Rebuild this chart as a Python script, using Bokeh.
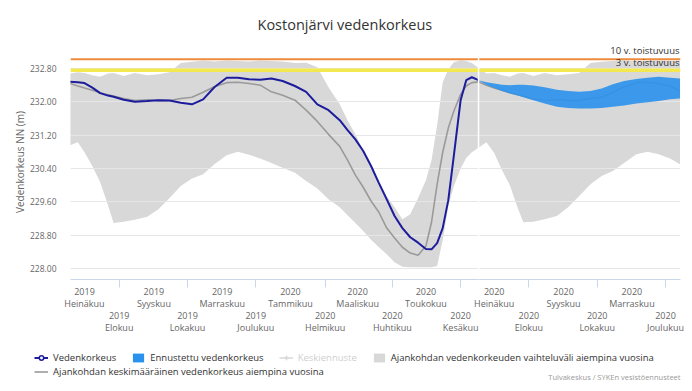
import numpy as np
from bokeh.plotting import figure
from bokeh.models import (Range1d, LinearAxis, FixedTicker, Legend, LegendItem, Span,
                          Label, Title, Grid, PrintfTickFormatter)
from bokeh.embed import file_html
from bokeh.resources import INLINE

# ---------------- data ----------------
dates = ["2019-06-18", "2019-06-25", "2019-07-01", "2019-07-08", "2019-07-15", "2019-07-22",
         "2019-07-27", "2019-08-05", "2019-08-15", "2019-08-26", "2019-09-05", "2019-09-15",
         "2019-09-25", "2019-10-05", "2019-10-15", "2019-10-25", "2019-11-05", "2019-11-15",
         "2019-11-25", "2019-12-05", "2019-12-15", "2019-12-25", "2020-01-05", "2020-01-15",
         "2020-01-25", "2020-02-04", "2020-02-14", "2020-02-21", "2020-02-28", "2020-03-06",
         "2020-03-13", "2020-03-20", "2020-03-27", "2020-04-03", "2020-04-10", "2020-04-17",
         "2020-04-24", "2020-05-01", "2020-05-06", "2020-05-11", "2020-05-16", "2020-05-21",
         "2020-05-26", "2020-06-01", "2020-06-06", "2020-06-11", "2020-06-17", "2020-06-24",
         "2020-07-01", "2020-07-08", "2020-07-15", "2020-07-22", "2020-07-27", "2020-08-05",
         "2020-08-15", "2020-08-26", "2020-09-05", "2020-09-15", "2020-09-25", "2020-10-05",
         "2020-10-15", "2020-10-25", "2020-11-05", "2020-11-15", "2020-11-25", "2020-12-05",
         "2020-12-14"]

band_max = [232.68, 232.71, 232.69, 232.64, 232.60, 232.68, 232.69, 232.62, 232.69, 232.64,
            232.66, 232.71, 232.93, 232.96, 232.99, 232.97, 232.99, 232.98, 232.97, 232.99,
            232.98, 232.97, 232.93, 232.94, 232.83, 232.35, 231.94, 231.56, 231.22, 230.82,
            230.43, 230.10, 229.74, 229.47, 229.18, 229.30, 229.69, 230.12, 230.60, 231.44,
            232.47, 232.78, 232.95, 233.00, 232.98, 232.93, 232.81, 232.68, 232.69, 232.64,
            232.60, 232.68, 232.69, 232.62, 232.69, 232.64, 232.66, 232.69, 232.93, 232.96,
            232.98, 232.99, 232.97, 232.98, 232.99, 232.98, 232.98]

band_min = [230.96, 231.03, 230.79, 230.46, 230.07, 229.52, 229.09, 229.12, 229.17, 229.24,
            229.42, 229.69, 229.98, 230.16, 230.26, 230.50, 230.72, 230.80, 230.73, 230.64,
            230.53, 230.42, 230.30, 230.10, 229.92, 229.66, 229.47, 229.28, 229.09, 228.90,
            228.69, 228.51, 228.34, 228.15, 228.04, 228.03, 228.03, 228.03, 228.03, 228.06,
            228.68, 229.50, 229.98, 230.40, 230.65, 230.79, 230.90, 231.03, 230.77, 230.36,
            230.00, 229.45, 229.11, 229.12, 229.18, 229.26, 229.47, 229.74, 230.02, 230.22,
            230.34, 230.53, 230.74, 230.80, 230.74, 230.64, 230.50]

mean_level = [232.44, 232.38, 232.33, 232.28, 232.22, 232.17, 232.14, 232.08, 232.03, 232.05,
              232.03, 232.03, 232.08, 232.11, 232.23, 232.36, 232.46, 232.47, 232.44, 232.40,
              232.24, 232.16, 232.04, 231.80, 231.53, 231.22, 230.93, 230.60, 230.24, 229.95,
              229.62, 229.35, 228.97, 228.73, 228.51, 228.37, 228.32, 228.54, 229.11, 230.02,
              230.79, 231.37, 231.78, 232.18, 232.38, 232.46, 232.48, 232.40, 232.33, 232.28,
              232.22, 232.17, 232.14, 232.07, 232.03, 232.05, 232.03, 232.03, 232.08, 232.11,
              232.23, 232.36, 232.46, 232.47, 232.44, 232.38, 232.26]

observed = [232.48, 232.47, 232.45, 232.34, 232.21, 232.15, 232.12, 232.05, 232.00, 232.02,
            232.04, 232.03, 231.98, 231.94, 232.06, 232.35, 232.58, 232.58, 232.54, 232.53,
            232.56, 232.50, 232.38, 232.24, 231.94, 231.80, 231.56, 231.32, 231.10, 230.82,
            230.46, 230.05, 229.66, 229.26, 228.97, 228.75, 228.62, 228.47, 228.46, 228.61,
            228.97, 229.64, 230.72, 232.04, 232.52, 232.59, 232.52]
obs_dates = dates[:47]

fc_dates = dates[46:]
fc_upper = [232.52, 232.47, 232.44, 232.41, 232.40, 232.41, 232.41, 232.39, 232.35, 232.29,
            232.26, 232.24, 232.26, 232.32, 232.42, 232.50, 232.55, 232.58, 232.60, 232.58,
            232.56]
fc_lower = [232.52, 232.41, 232.33, 232.26, 232.20, 232.15, 232.11, 232.04, 231.96, 231.88,
            231.85, 231.84, 231.84, 231.85, 231.88, 231.91, 231.96, 231.99, 232.02, 232.06,
            232.08]

today = "2020-06-17"
level_10y = 233.02
level_3y = 232.76
x_start, x_end = "2019-06-18T12:00", "2020-12-14T10:00"
y_ticks = [228.0, 228.8, 229.6, 230.4, 231.2, 232.0, 232.8]
month_names = ["Tammikuu", "Helmikuu", "Maaliskuu", "Huhtikuu", "Toukokuu", "Kesäkuu",
               "Heinäkuu", "Elokuu", "Syyskuu", "Lokakuu", "Marraskuu", "Joulukuu"]
tick_months = ["2019-07", "2019-08", "2019-09", "2019-10", "2019-11", "2019-12",
               "2020-01", "2020-02", "2020-03", "2020-04", "2020-05", "2020-06",
               "2020-07", "2020-08", "2020-09", "2020-10", "2020-11", "2020-12"]

# colours
C_OBS, C_FC, C_BAND, C_MEAN, C_MID = "#1c1c9c", "#2a91ec", "#d8d8d8", "#9a9a9a", "#666666"


def ms(vals):
    return np.array(vals, dtype="datetime64[ms]").astype(np.int64).astype(float)


FONT = "Open Sans"
x = ms(dates)
tick_ms = ms([m + "-01" for m in tick_months])
tick_text = {float(t): f"{m[:4]}\n{month_names[int(m[5:]) - 1]}" for t, m in zip(tick_ms, tick_months)}
upper_ticks = [float(t) for t in tick_ms[0::2]]
lower_ticks = [float(t) for t in tick_ms[1::2]]

W = 684
H_MAIN = 337
H_LEG = 46

p = figure(width=W, height=H_MAIN, output_backend="svg", toolbar_location=None,
           x_range=Range1d(ms([x_start])[0], ms([x_end])[0]),
           y_range=Range1d(227.736, 233.376),
           x_axis_type=None, y_axis_type=None,
           min_border_left=70, min_border_right=4, min_border_top=44, min_border_bottom=58)
p.outline_line_color = None
p.background_fill_color = "white"

p.title = Title(text="Kostonjärvi vedenkorkeus", align="left", offset=187,
                text_font=FONT, text_font_size="14.5px", text_font_style="normal",
                text_color="#333333", standoff=22)

# y axis + grid
yaxis = LinearAxis(ticker=FixedTicker(ticks=y_ticks), formatter=PrintfTickFormatter(format="%.2f"),
                   axis_label="Vedenkorkeus NN (m)", axis_line_color=None,
                   major_tick_line_color=None, minor_tick_line_color=None,
                   major_tick_out=0, minor_tick_out=0,
                   major_label_standoff=14, axis_label_standoff=0,
                   major_label_text_font=FONT, major_label_text_font_size="8.5px",
                   major_label_text_color="#666666",
                   axis_label_text_font=FONT, axis_label_text_font_size="10px",
                   axis_label_text_font_style="normal", axis_label_text_color="#666666")
p.add_layout(yaxis, "left")
p.add_layout(Grid(dimension=1, ticker=FixedTicker(ticks=y_ticks),
                  grid_line_color="#e6e6e6", grid_line_width=1))

# x axes (staggered labels)
xaxis1 = LinearAxis(ticker=FixedTicker(ticks=upper_ticks, minor_ticks=lower_ticks),
                    major_label_overrides={k: v for k, v in tick_text.items() if k in upper_ticks},
                    axis_line_color="#ccd6eb", major_tick_line_color=None,
                    minor_tick_line_color="#ccd6eb", major_tick_out=0, major_tick_in=0,
                    minor_tick_out=8, minor_tick_in=0, major_label_standoff=-3,
                    major_label_text_font=FONT, major_label_text_font_size="9px",
                    major_label_text_color="#666666", major_label_text_line_height=0.95)
xaxis2 = LinearAxis(ticker=FixedTicker(ticks=lower_ticks, minor_ticks=[]),
                    major_label_overrides={k: v for k, v in tick_text.items() if k in lower_ticks},
                    axis_line_color=None, major_tick_line_color=None, minor_tick_line_color=None,
                    major_tick_out=0, major_tick_in=0, minor_tick_out=0, major_label_standoff=-4,
                    major_label_text_font=FONT, major_label_text_font_size="9px",
                    major_label_text_color="#666666", major_label_text_line_height=0.95)
p.add_layout(xaxis1, "below")
p.add_layout(xaxis2, "below")

# series
p.varea(x=x, y1=band_min, y2=band_max, fill_color=C_BAND, level="image")
p.line(x, mean_level, line_color=C_MEAN, line_width=1.6)
p.varea(x=ms(fc_dates), y1=fc_lower, y2=fc_upper, fill_color=C_FC, fill_alpha=0.9)
p.line(ms(obs_dates), observed, line_color=C_OBS, line_width=2)

p.add_layout(Span(location=level_10y, dimension="width", line_color="#ee8a3c", line_width=2))
p.add_layout(Span(location=level_3y, dimension="width", line_color="#f3e84e", line_width=3.5))
p.add_layout(Span(location=ms([today])[0], dimension="height", line_color="white", line_width=1.5))

x_end_ms = ms([x_end])[0]
p.add_layout(Label(x=x_end_ms, y=level_10y, x_offset=-1, y_offset=2, text="10 v. toistuvuus",
                   text_align="right", text_baseline="bottom", text_font=FONT,
                   text_font_size="9.5px", text_color="#333333"))
p.add_layout(Label(x=x_end_ms, y=level_3y, x_offset=-1, y_offset=1.5, text="3 v. toistuvuus",
                   text_align="right", text_baseline="bottom", text_font=FONT,
                   text_font_size="9.5px", text_color="#333333"))

# ---------------- legend strip (separate root, its frame spans the full width) ----------------
q = figure(width=W, height=H_LEG, output_backend="svg", toolbar_location=None,
           x_range=Range1d(0, W), y_range=Range1d(0, H_LEG),
           x_axis_type=None, y_axis_type=None,
           min_border_left=0, min_border_right=0, min_border_top=0, min_border_bottom=0)
q.outline_line_color = None
q.grid.visible = False

nan = [np.nan]
l_obs = q.line(nan, nan, line_color=C_OBS, line_width=2)
l_obs_mk = q.scatter(nan, nan, marker="circle", size=6, line_color=C_OBS, line_width=1.5,
                     fill_color="white")
l_fc = q.varea(x=nan, y1=nan, y2=nan, fill_color=C_FC)
l_mid = q.line(nan, nan, line_color=C_MID, line_width=1.5, visible=False)
l_mid_mk = q.scatter(nan, nan, marker="cross", size=7, line_color=C_MID, line_width=1.5,
                     visible=False)
l_band = q.varea(x=nan, y1=nan, y2=nan, fill_color=C_BAND)
l_mean = q.line(nan, nan, line_color=C_MEAN, line_width=1.6)

leg_style = dict(orientation="horizontal", padding=0, margin=0, spacing=15, label_standoff=5,
                 glyph_width=14, glyph_height=11, label_height=13,
                 label_text_font=FONT, label_text_font_size="9.5px", label_text_color="#333333",
                 border_line_color=None, background_fill_alpha=0, click_policy="hide",
                 inactive_fill_alpha=0.75)
leg1 = Legend(items=[LegendItem(label="Vedenkorkeus", renderers=[l_obs, l_obs_mk]),
                     LegendItem(label="Ennustettu vedenkorkeus", renderers=[l_fc]),
                     LegendItem(label="Keskiennuste", renderers=[l_mid, l_mid_mk]),
                     LegendItem(label="Ajankohdan vedenkorkeuden vaihteluväli aiempina vuosina",
                                renderers=[l_band])],
              location=(34, 19.5), **leg_style)
leg2 = Legend(items=[LegendItem(label="Ajankohdan keskimääräinen vedenkorkeus aiempina vuosina",
                                renderers=[l_mean])],
              location=(34, 5.5), **leg_style)
q.add_layout(leg1)
q.add_layout(leg2)
q.add_layout(Label(x=680, y=7, text="Tulvakeskus / SYKEn vesistöennusteet", text_align="right",
                   text_baseline="middle", text_font=FONT, text_font_size="7.5px",
                   text_color="#999999"))

open("out.html", "w").write(file_html([p, q], INLINE))
